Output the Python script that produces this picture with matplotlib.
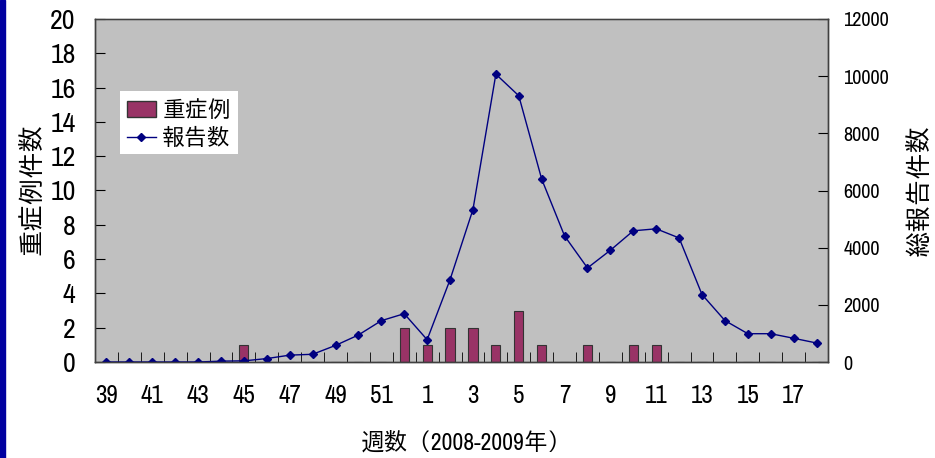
import matplotlib.pyplot as plt
from matplotlib.lines import Line2D
from matplotlib.patches import Patch, Rectangle

# weeks 39-52 of 2008, then 1-18 of 2009
weeks = list(range(39, 53)) + list(range(1, 19))
severe = [0, 0, 0, 0, 0, 0, 1, 0, 0, 0, 0, 0, 0, 2,
          1, 2, 2, 1, 3, 1, 0, 1, 0, 1, 1, 0, 0, 0, 0, 0, 0, 0]
reports = [0, 0, 0, 0, 0, 30, 40, 120, 240, 270, 580, 945, 1446, 1690,
           780, 2880, 5335, 10070, 9315, 6400, 4410, 3290, 3910, 4590,
           4660, 4340, 2360, 1450, 990, 990, 830, 665]
left_ticks = list(range(0, 21, 2))
right_ticks = list(range(0, 12001, 2000))

FONT = ["IPAGothic", "Noto Sans CJK JP", "DejaVu Sans"]
DIGITS = ["Archivo Narrow"] + FONT
plt.rcParams["font.family"] = FONT

fig = plt.figure(figsize=(9.35, 4.58), dpi=100)
ax = fig.add_axes([95 / 935, 96 / 458, 733 / 935, 343 / 458])
ax.set_facecolor("#c0c0c0")
ax2 = ax.twinx()

x = list(range(len(weeks)))
ax.bar(x, severe, width=0.4, color="#993366", edgecolor="#333333", linewidth=0.8)
ax2.plot(x, reports, color="#000080", lw=1, marker="D", ms=4.5)

ax.set_xlim(-0.5, len(weeks) - 0.5)
ax.set_ylim(0, 20)
ax2.set_ylim(0, 12000)

ax.set_yticks(left_ticks)
ax.set_yticklabels([str(t) for t in left_ticks], family=DIGITS, fontsize=20)
ax2.set_yticks(right_ticks)
ax2.set_yticklabels([str(t) for t in right_ticks], family=DIGITS, fontsize=14.5)

ax.set_xticks(x[::2])
ax.set_xticklabels([str(w) for w in weeks[::2]], family=DIGITS, fontsize=18)
ax.set_xticks([i - 0.5 for i in range(len(weeks) + 1)], minor=True)
ax.tick_params(axis="x", which="major", length=0, pad=16)
ax.tick_params(axis="x", which="minor", direction="in", length=7)
ax.tick_params(axis="y", direction="in", length=7, pad=14)
ax2.tick_params(axis="y", direction="in", length=7, pad=11)

for a in (ax, ax2):
    for s in a.spines.values():
        s.set_color("#404040")
        s.set_linewidth(1)
ax.spines["top"].set_color("#808080")

fig.text(30 / 935, 1 - 189 / 458, "重症例件数", rotation=90, ha="center", va="center",
         fontsize=19)
fig.text(918 / 935, 1 - 190 / 458, "総報告件数", rotation=90, ha="center", va="center",
         fontsize=19)
fig.text(466 / 935, 1 - 442 / 458, "週数（2008-2009年）", ha="center", va="center",
         family=DIGITS, fontsize=17)

handles = [Patch(facecolor="#993366", edgecolor="#333333"),
           Line2D([], [], color="#000080", lw=1, marker="D", ms=4.5)]
leg = ax2.legend(handles, ["重症例", "報告数"], loc="upper left",
                 bbox_to_anchor=(25 / 733, 1 - 72 / 343), frameon=True, fancybox=False,
                 prop={"size": 16.5}, handlelength=1.25, handletextpad=0.3,
                 borderpad=0.3, labelspacing=0.3, borderaxespad=0)
leg.get_frame().set_edgecolor("white")
leg.get_frame().set_linewidth(0)
leg.get_frame().set_alpha(1)

fig.patches.append(Rectangle((0, 0), 5 / 935, 1, transform=fig.transFigure,
                             color="#0000a0", zorder=0))

fig.savefig("out.png", dpi=100)
